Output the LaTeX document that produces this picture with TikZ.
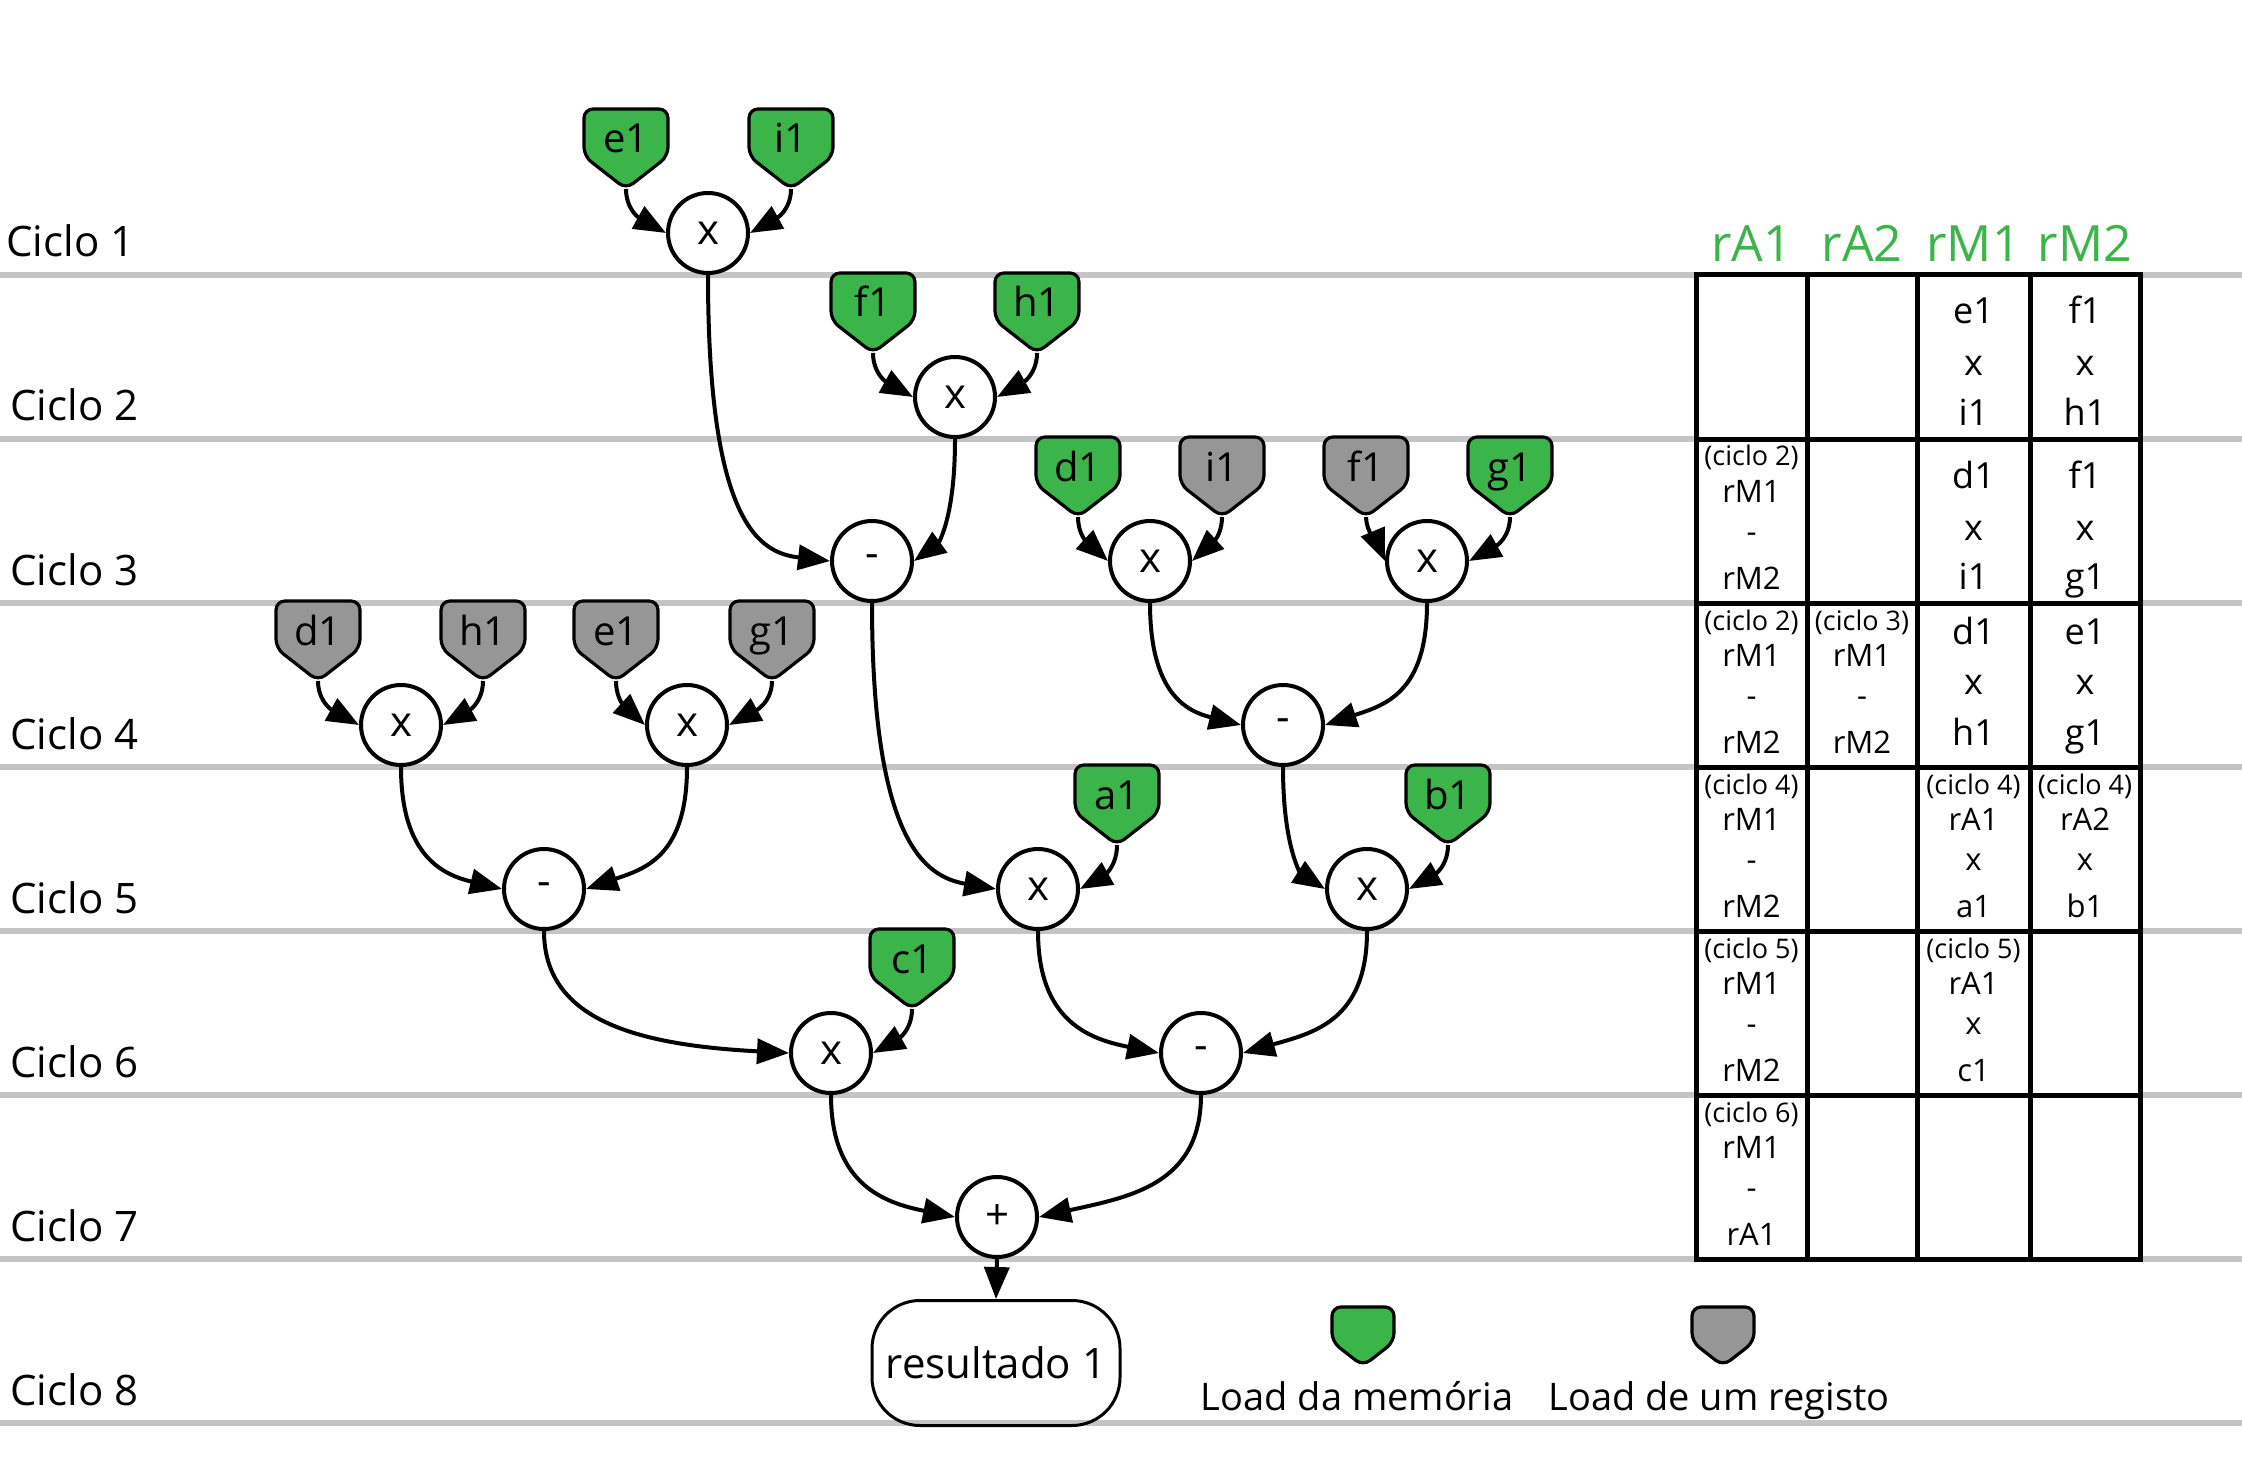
\documentclass[tikz,border=0pt]{standalone}
\usepackage{fontspec}
\setmainfont{Open Sans}
\usetikzlibrary{arrows.meta}
\definecolor{ldgreen}{HTML}{3BB44A}
\definecolor{ldgray}{HTML}{969696}
\definecolor{gridgray}{HTML}{C4C4C4}
\definecolor{hdrgreen}{HTML}{3BB44A}
\makeatletter
\pgfdeclareshape{shield}{%
  \inheritsavedanchors[from=rectangle]%
  \inheritanchorborder[from=rectangle]%
  \inheritanchor[from=rectangle]{center}%
  \inheritanchor[from=rectangle]{north}%
  \inheritanchor[from=rectangle]{south}%
  \inheritanchor[from=rectangle]{west}%
  \inheritanchor[from=rectangle]{east}%
  \inheritanchor[from=rectangle]{base}%
  \backgroundpath{%
    \southwest \edef\shxa{\the\pgf@x}\edef\shya{\the\pgf@y}%
    \northeast \edef\shxb{\the\pgf@x}\edef\shyb{\the\pgf@y}%
    \pgfmathsetlengthmacro\shxc{(\shxa+\shxb)/2}%
    \pgfmathsetlengthmacro\shyc{\shya+0.41*(\shyb-\shya)}%
    \pgfpathmoveto{\pgfqpoint{\shxc}{\shyb}}%
    \pgfpathlineto{\pgfqpoint{\shxb}{\shyb}}%
    \pgfpathlineto{\pgfqpoint{\shxb}{\shyc}}%
    \pgfpathlineto{\pgfqpoint{\shxc}{\shya}}%
    \pgfpathlineto{\pgfqpoint{\shxa}{\shyc}}%
    \pgfpathlineto{\pgfqpoint{\shxa}{\shyb}}%
    \pgfpathclose
  }%
}
\makeatother
\begin{document}
\begin{tikzpicture}[x=0.5pt, y=-0.5pt,
  op/.style={circle, draw, line width=2pt, fill=white, minimum size=40pt, inner sep=0pt, font=\fontsize{21}{24}\selectfont},
  ld/.style={shield, draw, line width=1.6pt, rounded corners=4.5pt, minimum width=42pt, inner sep=0pt, outer sep=0pt, text height=22pt, text depth=18pt, font=\fontsize{20}{24}\selectfont, anchor=north},
  mem/.style={ld, fill=ldgreen},
  reg/.style={ld, fill=ldgray},
  conn/.style={line width=2pt, -{Triangle[length=16pt,width=12.5pt]}},
  gridline/.style={line width=2.75pt, gridgray},
  ciclo/.style={anchor=base west, font=\fontsize{21}{25}\selectfont, inner sep=0pt},
  hdr/.style={anchor=base, text=hdrgreen, font=\fontsize{25}{30}\selectfont, inner sep=0pt},
  cthree/.style={anchor=base, font=\fontsize{18}{20}\selectfont, inner sep=0pt},
  cfour/.style={anchor=base, font=\fontsize{15.5}{18}\selectfont, inner sep=0pt},
  csmall/.style={anchor=base, font=\fontsize{13.5}{16}\selectfont, inner sep=0pt},
  legtext/.style={anchor=base, font=\fontsize{19}{22}\selectfont, inner sep=0pt},
  legshape/.style={minimum width=31pt, text height=15pt, text depth=14.5pt}
]
\useasboundingbox (0,0) rectangle (2242,1481);

% grid lines
\foreach \k in {0,...,7} {
  \draw[gridline] (0,275+164*\k) -- (2242,275+164*\k);
}

% cycle labels
\node[ciclo] (cy1) at (6,257) {Ciclo 1};
\node[ciclo] (cy2) at (10,421) {Ciclo 2};
\node[ciclo] (cy3) at (10,585) {Ciclo 3};
\node[ciclo] (cy4) at (10,749) {Ciclo 4};
\node[ciclo] (cy5) at (10,913) {Ciclo 5};
\node[ciclo] (cy6) at (10,1077) {Ciclo 6};
\node[ciclo] (cy7) at (10,1241) {Ciclo 7};
\node[ciclo] (cy8) at (10,1405) {Ciclo 8};

% operation nodes
\node[op] (x1) at (708,233) {x};
\node[op] (x2) at (955,397) {x};
\node[op] (m3) at (872,561) {-};
\node[op] (x3a) at (1150,561) {x};
\node[op] (x3b) at (1427,561) {x};
\node[op] (x4a) at (401,725) {x};
\node[op] (x4b) at (687,725) {x};
\node[op] (m4) at (1283,725) {-};
\node[op] (m5) at (544,889) {-};
\node[op] (x5a) at (1038,889) {x};
\node[op] (x5b) at (1367,889) {x};
\node[op] (x6a) at (831,1053) {x};
\node[op] (m6) at (1201,1053) {-};
\node[op] (p7) at (997,1217) {+};

% load nodes
\node[mem] (l1e) at (626,109) {e1};
\node[mem] (l1i) at (791,109) {i1};
\node[mem] (l2f) at (873,273) {f1};
\node[mem] (l2h) at (1037,273) {h1};
\node[mem] (l3d) at (1078,437) {d1};
\node[reg] (l3i) at (1222,437) {i1};
\node[reg] (l3f) at (1366,437) {f1};
\node[mem] (l3g) at (1510,437) {g1};
\node[reg] (l4d) at (318,601) {d1};
\node[reg] (l4h) at (483,601) {h1};
\node[reg] (l4e) at (616,601) {e1};
\node[reg] (l4g) at (772,601) {g1};
\node[mem] (l5a) at (1117,765) {a1};
\node[mem] (l5b) at (1448,765) {b1};
\node[mem] (l6c) at (912,929) {c1};

% result
\node[draw, line width=1.5pt, rounded corners=24pt, minimum width=124pt, minimum height=62.5pt, inner sep=0pt, font=\fontsize{21}{24}\selectfont] (res) at (996,1363) {resultado 1};

% load edges
\draw[conn] (l1e.south) .. controls +(0,26) and +(-18,-10) .. (x1.west);
\draw[conn] (l1i.south) .. controls +(0,26) and +(18,-10) .. (x1.east);
\draw[conn] (l2f.south) .. controls +(0,26) and +(-18,-10) .. (x2.west);
\draw[conn] (l2h.south) .. controls +(0,26) and +(18,-10) .. (x2.east);
\draw[conn] (l3d.south) .. controls +(0,24) and +(-12,-11) .. (x3a.west);
\draw[conn] (l3i.south) .. controls +(0,24) and +(12,-11) .. (x3a.east);
\draw[conn] (l3f.south) .. controls +(0,15) and +(-5,-12) .. (x3b.west);
\draw[conn] (l3g.south) .. controls +(0,26) and +(18,-10) .. (x3b.east);
\draw[conn] (l4d.south) .. controls +(0,26) and +(-18,-10) .. (x4a.west);
\draw[conn] (l4h.south) .. controls +(0,26) and +(18,-10) .. (x4a.east);
\draw[conn] (l4e.south) .. controls +(0,24) and +(-12,-11) .. (x4b.west);
\draw[conn] (l4g.south) .. controls +(0,26) and +(18,-10) .. (x4b.east);
\draw[conn] (l5a.south) .. controls +(0,26) and +(18,-10) .. (x5a.east);
\draw[conn] (l5b.south) .. controls +(0,26) and +(18,-10) .. (x5b.east);
\draw[conn] (l6c.south) .. controls +(0,26) and +(18,-10) .. (x6a.east);

% operation edges
\draw[conn] (x1.south) .. controls +(0,250) and +(-70,-8) .. (m3.west);
\draw[conn] (x2.south) .. controls +(0,85) and +(22,-16) .. (m3.east);
\draw[conn] (x3a.south) .. controls +(0,90) and +(-55,-14) .. (m4.west);
\draw[conn] (x3b.south) .. controls +(0,90) and +(60,-20) .. (m4.east);
\draw[conn] (x4a.south) .. controls +(0,90) and +(-58,-14) .. (m5.west);
\draw[conn] (x4b.south) .. controls +(0,90) and +(58,-20) .. (m5.east);
\draw[conn] (m3.south) .. controls +(0,240) and +(-70,-12) .. (x5a.west);
\draw[conn] (m4.south) .. controls +(0,85) and +(-22,-14) .. (x5b.west);
\draw[conn] (m5.south) .. controls +(0,90) and +(-150,-8) .. (x6a.west);
\draw[conn] (x5a.south) .. controls +(0,90) and +(-70,-14) .. (m6.west);
\draw[conn] (x5b.south) .. controls +(0,90) and +(70,-20) .. (m6.east);
\draw[conn] (x6a.south) .. controls +(0,90) and +(-70,-14) .. (p7.west);
\draw[conn] (m6.south) .. controls +(0,90) and +(90,-20) .. (p7.east);
\draw[conn] (p7.south) -- (res.north);

% table
\draw[line width=2.5pt, fill=white] (1696,275) rectangle (2140,1259);
\foreach \xx in {1807,1917,2030} { \draw[line width=2.5pt] (\xx,275) -- (\xx,1259); }
\foreach \k in {1,...,5} { \draw[line width=2.5pt] (1696,275+164*\k) -- (2140,275+164*\k); }

\node[hdr] (hA1) at (1751.5,262) {rA1};
\node[hdr] (hA2) at (1862,262) {rA2};
\node[hdr] (hM1) at (1973.5,262) {rM1};
\node[hdr] (hM2) at (2085,262) {rM2};

% row 1 (T=275)
\node[cthree] (r1m1a) at (1973.5,324) {e1};
\node[cthree] (r1m1b) at (1973.5,376) {x};
\node[cthree] (r1m1c) at (1973.5,425) {i1};
\node[cthree] (r1m2a) at (2085,324) {f1};
\node[cthree] (r1m2b) at (2085,376) {x};
\node[cthree] (r1m2c) at (2085,425) {h1};

% row 2 (T=439)
\node[csmall] (r2a1a) at (1751.5,466) {(ciclo 2)};
\node[cfour] (r2a1b) at (1751.5,502) {rM1};
\node[cfour] (r2a1c) at (1751.5,542) {-};
\node[cfour] (r2a1d) at (1751.5,589) {rM2};
\node[cthree] (r2m1a) at (1973.5,488) {d1};
\node[cthree] (r2m1b) at (1973.5,540) {x};
\node[cthree] (r2m1c) at (1973.5,589) {i1};
\node[cthree] (r2m2a) at (2085,488) {f1};
\node[cthree] (r2m2b) at (2085,540) {x};
\node[cthree] (r2m2c) at (2085,589) {g1};

% row 3 (T=603)
\node[csmall] (r3a1a) at (1751.5,630) {(ciclo 2)};
\node[cfour] (r3a1b) at (1751.5,666) {rM1};
\node[cfour] (r3a1c) at (1751.5,706) {-};
\node[cfour] (r3a1d) at (1751.5,753) {rM2};
\node[csmall] (r3a2a) at (1862,630) {(ciclo 3)};
\node[cfour] (r3a2b) at (1862,666) {rM1};
\node[cfour] (r3a2c) at (1862,706) {-};
\node[cfour] (r3a2d) at (1862,753) {rM2};
\node[cthree] (r3m1a) at (1973.5,644) {d1};
\node[cthree] (r3m1b) at (1973.5,694) {x};
\node[cthree] (r3m1c) at (1973.5,745) {h1};
\node[cthree] (r3m2a) at (2085,644) {e1};
\node[cthree] (r3m2b) at (2085,694) {x};
\node[cthree] (r3m2c) at (2085,745) {g1};

% row 4 (T=767)
\node[csmall] (r4a1a) at (1751.5,794) {(ciclo 4)};
\node[cfour] (r4a1b) at (1751.5,830) {rM1};
\node[cfour] (r4a1c) at (1751.5,870) {-};
\node[cfour] (r4a1d) at (1751.5,917) {rM2};
\node[csmall] (r4m1a) at (1973.5,794) {(ciclo 4)};
\node[cfour] (r4m1b) at (1973.5,830) {rA1};
\node[cfour] (r4m1c) at (1973.5,870) {x};
\node[cfour] (r4m1d) at (1973.5,917) {a1};
\node[csmall] (r4m2a) at (2085,794) {(ciclo 4)};
\node[cfour] (r4m2b) at (2085,830) {rA2};
\node[cfour] (r4m2c) at (2085,870) {x};
\node[cfour] (r4m2d) at (2085,917) {b1};

% row 5 (T=931)
\node[csmall] (r5a1a) at (1751.5,958) {(ciclo 5)};
\node[cfour] (r5a1b) at (1751.5,994) {rM1};
\node[cfour] (r5a1c) at (1751.5,1034) {-};
\node[cfour] (r5a1d) at (1751.5,1081) {rM2};
\node[csmall] (r5m1a) at (1973.5,958) {(ciclo 5)};
\node[cfour] (r5m1b) at (1973.5,994) {rA1};
\node[cfour] (r5m1c) at (1973.5,1034) {x};
\node[cfour] (r5m1d) at (1973.5,1081) {c1};

% row 6 (T=1095)
\node[csmall] (r6a1a) at (1751.5,1122) {(ciclo 6)};
\node[cfour] (r6a1b) at (1751.5,1158) {rM1};
\node[cfour] (r6a1c) at (1751.5,1198) {-};
\node[cfour] (r6a1d) at (1751.5,1245) {rA1};

% legend
\node[mem, legshape] (legM) at (1363,1307) {};
\node[reg, legshape] (legR) at (1723,1307) {};
\node[legtext] (legMt) at (1357,1410) {Load da memória};
\node[legtext] (legRt) at (1719,1410) {Load de um registo};
\end{tikzpicture}
\end{document}
